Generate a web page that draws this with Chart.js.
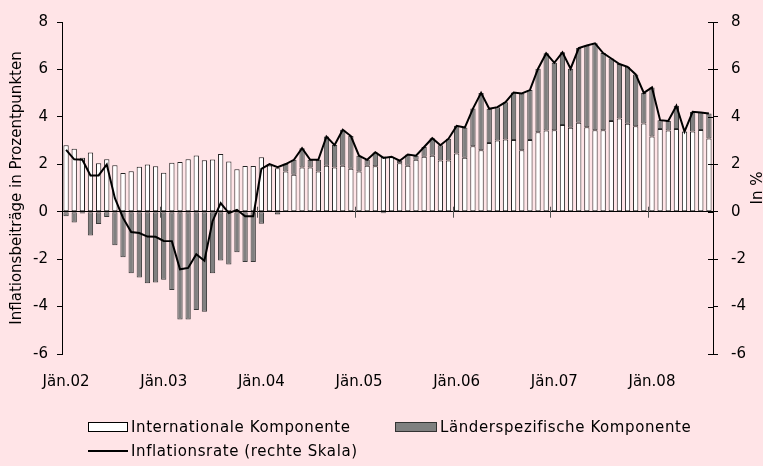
<!DOCTYPE html>
<html><head><meta charset="utf-8">
<script src="https://cdn.jsdelivr.net/npm/chart.js@4"></script>
<style>
html,body{margin:0;padding:0;background:#FFE4E7;}
#wrap{position:relative;width:763px;height:466px;background:#FFE4E7;overflow:hidden;}
#c{position:absolute;left:0;top:0;}
.lt{position:absolute;font:15px "DejaVu Sans",sans-serif;color:#000;white-space:nowrap;line-height:18px;letter-spacing:0.6px;}
.bx{position:absolute;width:40px;height:10px;border:1px solid #000;box-sizing:border-box;}
</style></head>
<body><div id="wrap"><canvas id="c" width="763" height="466"></canvas>
<div class="bx" style="left:88px;top:422px;background:#fff;"></div>
<div class="lt" style="left:131px;top:418px;">Internationale Komponente</div>
<div class="bx" style="left:395px;top:422px;width:42px;background:#808080;border-color:#333;"></div>
<div class="lt" style="left:440px;top:418px;">Länderspezifische Komponente</div>
<div style="position:absolute;left:88px;top:450px;width:40px;height:2px;background:#000;"></div>
<div class="lt" style="left:131px;top:442px;">Inflationsrate (rechte Skala)</div>
</div>
<script>
const monthNames = ["Jän","Feb","Mär","Apr","Mai","Jun","Jul","Aug","Sep","Okt","Nov","Dez"];
const years = ["02","03","04","05","06","07","08"];
const nMonths = 80;
const categories = [];
for (let i = 0; i < nMonths; i++) categories.push(monthNames[i % 12] + "." + years[Math.floor(i / 12)]);

const internationalComponent = [
 2.80,2.66,2.28,2.50,2.04,2.21,1.96,1.63,1.71,1.90,1.99,1.92,
 1.64,2.07,2.10,2.21,2.37,2.17,2.20,2.43,2.12,1.79,1.93,1.93,
 2.30,1.95,1.83,1.70,1.56,1.86,1.86,1.70,1.94,1.86,1.94,1.81,
 1.70,1.94,1.92,2.33,2.30,2.04,1.94,2.19,2.32,2.36,2.16,2.16,
 2.45,2.28,2.76,2.59,2.90,3.00,3.05,3.02,2.59,3.02,3.35,3.42,
 3.43,3.66,3.54,3.75,3.56,3.43,3.43,3.83,3.93,3.71,3.60,3.72,
 3.17,3.49,3.42,3.49,3.38,3.38,3.45,3.09
];
const countrySpecificComponent = [
 -0.19,-0.46,-0.08,-1.00,-0.52,-0.22,-1.41,-1.92,-2.59,-2.77,-3.02,-2.99,
 -2.87,-3.30,-4.54,-4.54,-4.14,-4.22,-2.59,-2.06,-2.23,-1.71,-2.12,-2.12,
 -0.51,0.05,-0.12,0.32,0.63,0.82,0.33,0.49,1.23,0.95,1.52,1.38,
 0.66,0.25,0.58,-0.07,0.02,0.11,0.47,0.17,0.41,0.74,0.64,0.92,
 1.17,1.27,1.59,2.42,1.44,1.41,1.57,2.01,2.40,2.11,2.68,3.26,
 2.85,3.06,2.49,3.15,3.45,3.67,3.26,2.63,2.30,2.40,2.19,1.29,
 2.07,0.37,0.41,0.98,0.00,0.83,0.73,1.05
];
const inflationRate = [
 2.61,2.21,2.19,1.53,1.53,1.99,0.57,-0.26,-0.86,-0.90,-1.05,-1.06,
 -1.23,-1.24,-2.43,-2.37,-1.79,-2.07,-0.40,0.36,-0.06,0.08,-0.19,-0.19,
 1.81,2.01,1.88,2.01,2.19,2.68,2.19,2.19,3.17,2.81,3.46,3.19,
 2.36,2.19,2.51,2.27,2.32,2.15,2.41,2.36,2.73,3.10,2.80,3.08,
 3.62,3.55,4.35,5.01,4.34,4.41,4.62,5.03,4.99,5.13,6.03,6.68,
 6.28,6.72,6.03,6.90,7.01,7.10,6.69,6.46,6.23,6.11,5.79,5.01,
 5.24,3.86,3.83,4.47,3.38,4.21,4.18,4.14
];
const axisTicks = [-6,-4,-2,0,2,4,6,8];
const FONT = {family: "DejaVu Sans", size: 15};

const extras = {
  id: 'extras',
  afterDatasetsDraw(chart) {
    const ctx = chart.ctx, x = chart.scales.x, y = chart.scales.y, y1 = chart.scales.y1;
    const y0 = y.getPixelForValue(0);
    ctx.save();
    ctx.strokeStyle = '#555'; ctx.lineWidth = 1;
    for (let i = 12; i < categories.length; i += 12) {
      const px = Math.round((x.getPixelForValue(i - 1) + x.getPixelForValue(i)) / 2) + 0.5;
      ctx.beginPath(); ctx.moveTo(px, y0 - 5); ctx.lineTo(px, y0 + 6); ctx.stroke();
    }
    ctx.strokeStyle = '#000';
    axisTicks.forEach(v => {
      const py = Math.round(y1.getPixelForValue(v)) + 0.5;
      ctx.beginPath(); ctx.moveTo(y1.left - 5, py); ctx.lineTo(y1.left, py); ctx.stroke();
    });
    ctx.restore();
  },
  afterDraw(chart) {
    const ctx = chart.ctx, y1 = chart.scales.y1;
    ctx.save();
    ctx.font = '15px "DejaVu Sans"';
    ctx.fillStyle = '#000';
    ctx.textAlign = 'center'; ctx.textBaseline = 'middle';
    ctx.translate(758, (y1.top + y1.bottom) / 2);
    ctx.rotate(-Math.PI / 2);
    ctx.fillText('In %', 0, 0);
    ctx.restore();
  }
};

new Chart(document.getElementById('c'), {
  data: {
    labels: categories,
    datasets: [
      {type: 'line', label: 'Inflationsrate (rechte Skala)', data: inflationRate, yAxisID: 'y1',
       borderColor: '#000', borderWidth: 2, pointRadius: 0, tension: 0, order: 0},
      {type: 'bar', label: 'Internationale Komponente', data: internationalComponent, yAxisID: 'y',
       backgroundColor: '#FFFFFF', borderColor: '#222', borderWidth: 1, borderSkipped: false,
       barPercentage: 0.65, categoryPercentage: 1, stack: 's', order: 1},
      {type: 'bar', label: 'Länderspezifische Komponente', data: countrySpecificComponent, yAxisID: 'y',
       backgroundColor: '#808080', borderColor: '#3a3a3a', borderWidth: 1, borderSkipped: false,
       barPercentage: 0.65, categoryPercentage: 1, stack: 's', order: 1}
    ]
  },
  options: {
    responsive: false, animation: false,
    layout: {padding: {top: 17, bottom: 72, left: 0, right: 0}},
    plugins: {legend: {display: false}, tooltip: {enabled: false}},
    scales: {
      x: {
        type: 'category', stacked: true, offset: true,
        grid: {display: false, drawTicks: false}, border: {display: false},
        ticks: {autoSkip: false, maxRotation: 0, minRotation: 0, padding: 19, color: '#000', font: FONT,
          callback: function(v, i) { const l = categories[i]; return l.startsWith('Jän') ? l : ''; }},
        afterFit: s => { s.height = 40; }
      },
      y: {
        position: 'left', stacked: true, min: -6, max: 8,
        afterBuildTicks: s => { s.ticks = axisTicks.map(v => ({value: v})); },
        ticks: {color: '#000', font: FONT, padding: 9},
        grid: {drawOnChartArea: true, drawTicks: true, tickLength: 5, tickColor: '#000',
          color: c => (c.tick && c.tick.value === 0) ? '#000' : 'rgba(0,0,0,0)'},
        border: {display: true, color: '#000', width: 1},
        title: {display: true, text: 'Inflationsbeiträge in Prozentpunkten', color: '#000', font: FONT,
          padding: {top: 8, bottom: 0}},
        afterFit: s => { s.width = 62; }
      },
      y1: {
        position: 'right', min: -6, max: 8,
        afterBuildTicks: s => { s.ticks = axisTicks.map(v => ({value: v})); },
        ticks: {color: '#000', font: FONT, padding: 13},
        grid: {drawOnChartArea: false, drawTicks: true, tickLength: 5, tickColor: '#000'},
        border: {display: true, color: '#000', width: 1},
        afterFit: s => { s.width = 50; }
      }
    }
  },
  plugins: [extras]
});
</script>
</body></html>
